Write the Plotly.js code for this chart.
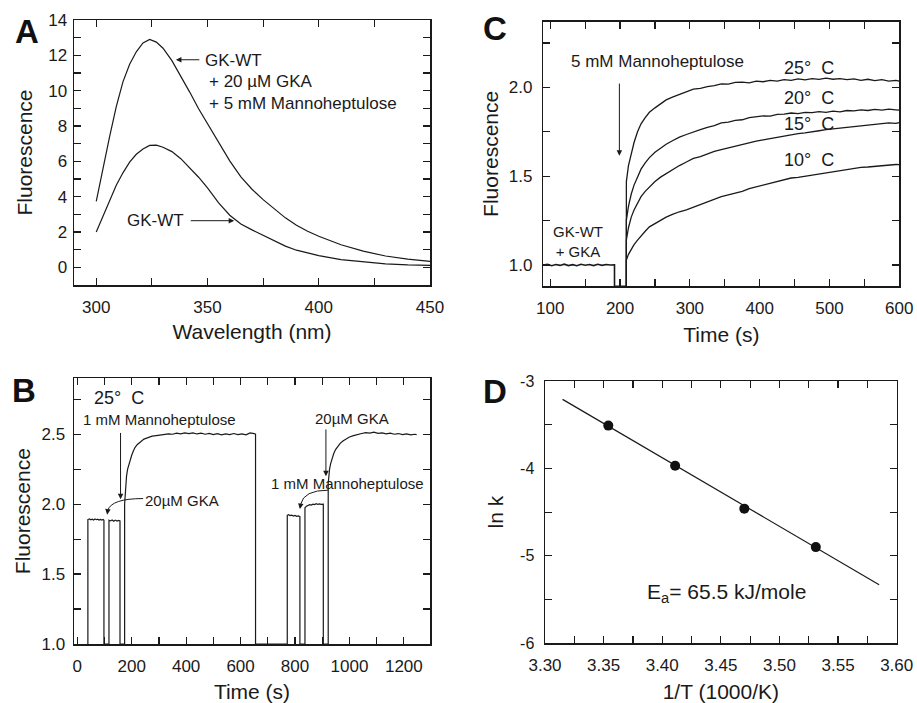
<!DOCTYPE html>
<html><head><meta charset="utf-8">
<script src="https://cdn.plot.ly/plotly-3.0.1.min.js"></script>
<style>html,body{margin:0;padding:0;background:#fff}#chart{width:917px;height:703px}</style>
</head><body><div id="chart"></div>
<script>
// ---------- Panel A : emission spectra ----------
const wavelength = [300,303,306,309,312,315,318,321,324,327,330,334,338,342,346,350,355,360,365,370,375,380,385,390,395,400,410,420,430,440,450];
const fluorWithGKA = [3.74,5.6,7.4,9.1,10.5,11.5,12.2,12.7,12.9,12.75,12.4,11.7,10.85,9.92,8.98,8.12,7.08,6.03,5.12,4.42,3.83,3.3,2.8,2.38,2.04,1.76,1.28,0.92,0.64,0.46,0.34];
const fluorGKWT = [2.0,2.9,3.85,4.65,5.35,5.95,6.4,6.7,6.9,6.92,6.8,6.55,6.15,5.65,5.1,4.5,3.65,2.95,2.45,2.12,1.8,1.48,1.2,0.97,0.8,0.66,0.44,0.3,0.2,0.14,0.11];

// ---------- Panel B : time course at 25 C ----------
const bTime = [39,39,45,50,55,60,65,70,75,80,85,90,95,98,98,116.5,116.5,122,128,134,140,146,152,157,157,174,174,176,178,181,185,190,195,200,206,212,220,228,236,245,255,265,275,290,305,320,335,350,365,380,395,410,425,440,455,470,485,500,515,530,545,560,575,590,605,620,635,650,655,655,771.6,771.6,776,782,788,794,800,806,812,818,818,836.6,836.6,842,848,854,860,866,872,878,884,890,896,904,904,922,922,924,927,931,936,942,949,957,966,976,988,1000,1015,1030,1045,1060,1075,1090,1105,1120,1135,1150,1165,1180,1195,1210,1225,1240,1247];
const bFluor = [1.0,1.89,1.895,1.888,1.892,1.886,1.894,1.889,1.893,1.887,1.891,1.886,1.89,1.885,1.0,1.0,1.885,1.88,1.887,1.878,1.886,1.879,1.884,1.88,1.0,1.0,2.0,2.08,2.14,2.2,2.25,2.29,2.325,2.35,2.38,2.405,2.425,2.44,2.455,2.465,2.472,2.48,2.486,2.49,2.495,2.498,2.502,2.5,2.508,2.503,2.51,2.505,2.51,2.502,2.508,2.5,2.506,2.498,2.504,2.496,2.502,2.497,2.505,2.498,2.503,2.496,2.51,2.505,2.5,1.0,1.0,1.92,1.925,1.918,1.922,1.915,1.919,1.913,1.916,1.91,1.0,1.0,1.975,1.985,1.99,1.996,1.993,2.0,1.997,2.003,1.998,2.002,1.999,2.0,1.0,1.0,2.15,2.2,2.25,2.29,2.33,2.36,2.39,2.415,2.435,2.452,2.468,2.48,2.49,2.5,2.505,2.512,2.508,2.515,2.506,2.51,2.503,2.508,2.5,2.505,2.498,2.502,2.495,2.5,2.497];

// ---------- Panel C : temperature dependence ----------
const cBaseTime = [90,96,102,108,114,120,126,132,138,144,150,156,162,168,174,180,186,192,192,209];
const cBaseFluor = [1.0,1.004,0.996,1.003,0.998,1.005,0.997,1.002,0.996,1.004,0.999,1.003,0.997,1.004,0.998,1.003,1.0,1.001,0.88,0.88];
const cTime = [209,209,212,216,220,225,230,236,242,250,258,266,275,285,295,305,315,325,335,345,355,365,375,385,395,405,415,425,435,445,455,465,475,485,495,505,515,525,535,545,555,565,575,585,595,600];
const c25 = [0.88,1.47,1.56,1.63,1.69,1.75,1.795,1.83,1.86,1.885,1.905,1.93,1.945,1.96,1.978,1.99,1.995,2.005,2.01,2.02,2.018,2.028,2.03,2.026,2.035,2.032,2.04,2.036,2.044,2.04,2.048,2.042,2.05,2.045,2.052,2.046,2.05,2.044,2.048,2.04,2.046,2.038,2.044,2.036,2.04,2.035];
const c20 = [0.88,1.253,1.33,1.40,1.45,1.50,1.54,1.575,1.605,1.635,1.66,1.68,1.70,1.72,1.735,1.75,1.762,1.775,1.785,1.8,1.805,1.815,1.818,1.83,1.834,1.84,1.838,1.848,1.85,1.856,1.852,1.86,1.858,1.864,1.86,1.866,1.862,1.87,1.868,1.874,1.87,1.876,1.872,1.878,1.874,1.872];
const c15 = [0.88,1.141,1.21,1.27,1.31,1.35,1.385,1.415,1.44,1.47,1.495,1.515,1.54,1.56,1.58,1.6,1.61,1.625,1.64,1.65,1.66,1.668,1.68,1.686,1.698,1.705,1.712,1.718,1.728,1.732,1.74,1.744,1.752,1.756,1.762,1.766,1.77,1.776,1.78,1.784,1.79,1.79,1.796,1.8,1.798,1.802];
const c10 = [0.88,1.028,1.06,1.09,1.115,1.14,1.165,1.19,1.215,1.235,1.255,1.27,1.285,1.30,1.31,1.325,1.34,1.355,1.37,1.385,1.395,1.405,1.415,1.43,1.44,1.45,1.46,1.47,1.478,1.49,1.494,1.5,1.508,1.514,1.52,1.528,1.532,1.54,1.544,1.55,1.552,1.556,1.558,1.562,1.566,1.565];

// ---------- Panel D : Arrhenius plot ----------
const invT = [3.354,3.411,3.470,3.531];
const lnK = [-3.51,-3.97,-4.46,-4.90];
const fitInvT = [3.315,3.585];
const fitLnK = [-3.21,-5.33];
const dYTickVals = [-3,-4,-5,-6];
const dYTickText = ['-3','-4','-5','-6'];

const FONT = "'Liberation Sans', Arial, Helvetica, sans-serif";
const INK = '#1a1a1a';
const lineStyle = {color: INK, width: 1.2};

const traces = [
  {x: wavelength, y: fluorWithGKA, xaxis:'x', yaxis:'y', mode:'lines', line: lineStyle, hoverinfo:'skip'},
  {x: wavelength, y: fluorGKWT, xaxis:'x', yaxis:'y', mode:'lines', line: lineStyle, hoverinfo:'skip'},
  {x: bTime, y: bFluor, xaxis:'x2', yaxis:'y2', mode:'lines', line: {color: INK, width: 1.2}, hoverinfo:'skip'},
  {x: cBaseTime, y: cBaseFluor, xaxis:'x3', yaxis:'y3', mode:'lines', line: {color: INK, width: 1.6}, hoverinfo:'skip'},
  {x: cTime, y: c25, xaxis:'x3', yaxis:'y3', mode:'lines', line: {color: INK, width: 1.3}, hoverinfo:'skip'},
  {x: cTime, y: c20, xaxis:'x3', yaxis:'y3', mode:'lines', line: {color: INK, width: 1.3}, hoverinfo:'skip'},
  {x: cTime, y: c15, xaxis:'x3', yaxis:'y3', mode:'lines', line: {color: INK, width: 1.3}, hoverinfo:'skip'},
  {x: cTime, y: c10, xaxis:'x3', yaxis:'y3', mode:'lines', line: {color: INK, width: 1.3}, hoverinfo:'skip'},
  {x: fitInvT, y: fitLnK, xaxis:'x4', yaxis:'y4', mode:'lines', line: {color: INK, width: 1.2}, hoverinfo:'skip'},
  {x: invT, y: lnK, xaxis:'x4', yaxis:'y4', mode:'markers', marker: {color: '#111', size: 10}, hoverinfo:'skip'}
];

const W = 917, H = 703;
function px2x(a,b){return [a/W, b/W];}
function py2y(top,bottom){return [1-bottom/H, 1-top/H];}

const baseAxis = {
  showline:true, linecolor:INK, linewidth:1.5, mirror:'allticks',
  ticks:'inside', ticklen:7, tickwidth:1.2, tickcolor:INK,
  showgrid:false, zeroline:false, fixedrange:true,
  tickfont:{family:FONT, size:17, color:INK}
};
function axis(extra, minor){
  const a = Object.assign({}, baseAxis, extra);
  a.minor = Object.assign({ticks:'inside', ticklen:7, tickwidth:1.2, tickcolor:INK, showgrid:false}, minor);
  return a;
}
const titleFont = {family:FONT, size:21, color:INK};

const layout = {
  width:W, height:H, margin:{l:0,r:0,t:0,b:0},
  paper_bgcolor:'#fff', plot_bgcolor:'#fff', showlegend:false,
  font:{family:FONT, color:INK},
  xaxis: axis({domain:px2x(74,430), anchor:'y', range:[290,450], tick0:300, dtick:50, ticklabelstandoff:6,
               title:{text:'Wavelength (nm)', font:titleFont, standoff:8}}, {tick0:300, dtick:25}),
  yaxis: axis({domain:py2y(20,285), anchor:'x', range:[-1,14], tick0:0, dtick:2, ticklabelstandoff:2,
               title:{text:'Fluorescence', font:titleFont, standoff:10}}, {tick0:0, dtick:1}),
  xaxis2: axis({domain:px2x(74,430), anchor:'y2', range:[-12,1296], tick0:0, dtick:200, ticklabelstandoff:6,
               title:{text:'Time (s)', font:titleFont, standoff:10}}, {tick0:0, dtick:100}),
  yaxis2: axis({domain:py2y(378.3,644), anchor:'x2', range:[1.0,2.9], tick0:1, dtick:0.5, tickformat:'.1f', ticklabelstandoff:4,
               title:{text:'Fluorescence', font:titleFont, standoff:5}}, {tick0:1, dtick:0.25}),
  xaxis3: axis({domain:px2x(543.3,899.3), anchor:'y3', range:[90,600], tick0:100, dtick:100, ticklabelstandoff:6,
               title:{text:'Time (s)', font:titleFont, standoff:10}}, {tick0:100, dtick:50}),
  yaxis3: axis({domain:py2y(21.7,286), anchor:'x3', range:[0.882,2.37], tick0:1, dtick:0.5, tickformat:'.1f', ticklabelstandoff:6,
               title:{text:'Fluorescence', font:titleFont, standoff:4}}, {tick0:1, dtick:0.25}),
  xaxis4: axis({domain:px2x(545,896.7), anchor:'y4', range:[3.30,3.60], tick0:3.30, dtick:0.05, tickformat:'.2f', ticklabelstandoff:6,
               title:{text:'1/T (1000/K)', font:titleFont, standoff:14}}, {tick0:3.30, dtick:0.025}),
  yaxis4: axis({domain:py2y(381,643.3), anchor:'x4', range:[-6,-3], tickmode:'array', tickvals:dYTickVals, ticktext:dYTickText, ticklabelstandoff:6,
               tickfont:{family:FONT, size:16, color:INK},
               title:{text:'ln k', font:titleFont, standoff:10}}, {tickmode:'linear', tick0:-6, dtick:0.5}),
  shapes: [
    {type:'path', xref:'x2', yref:'y2', path:'M 242,2.04 Q 125,2.04 112,1.955', line:{color:INK, width:1}},
    {type:'path', xref:'x2', yref:'y2', path:'M 922,2.10 Q 832,2.10 821,2.0', line:{color:INK, width:1}}
  ],
  annotations: []
};

const ann = layout.annotations;
function txt(xref, yref, x, y, text, size, xanchor){
  ann.push({xref, yref, x, y, text, showarrow:false, xanchor:xanchor||'center', yanchor:'middle',
            font:{family:FONT, size, color:INK}});
}
function arrow(xref, yref, x, y, ax, ay){
  ann.push({xref, yref, axref:xref, ayref:yref, x, y, ax, ay, text:'', showarrow:true,
            arrowhead:2, arrowsize:1.1, arrowwidth:1, arrowcolor:INK, standoff:0, startstandoff:0});
}
// panel letters
[['A',27,31],['B',23.5,390],['C',494.5,28.5],['D',494.5,391.5]].forEach(function(p){
  ann.push({xref:'paper', yref:'paper', x:p[1]/W, y:1-p[2]/H, text:'<b>'+p[0]+'</b>', showarrow:false,
            xanchor:'center', yanchor:'middle', font:{family:FONT, size:33, color:'#111'}});
});
// Panel A
txt('x','y',348.1,11.7,'GK-WT',17,'left');
txt('x','y',349.9,10.5,'+ 20 µM GKA',17,'left');
txt('x','y',349.9,9.3,'+ 5 mM Mannoheptulose',17,'left');
arrow('x','y',335.8,11.75,347,11.75);
txt('x','y',326.5,2.64,'GK-WT',17,'center');
arrow('x','y',362,2.64,341.8,2.64);
// Panel B
txt('x2','y2',54,2.76,'25°\u00a0\u00a0C',18,'left');
txt('x2','y2',303,2.607,'1 mM Mannoheptulose',15,'center');
arrow('x2','y2',159,2.035,159,2.52);
txt('x2','y2',386,2.028,'20µM GKA',15,'center');
arrow('x2','y2',110,1.925,112,1.955);
txt('x2','y2',1010,2.614,'20µM GKA',15,'center');
arrow('x2','y2',913.6,2.2,913.6,2.545);
txt('x2','y2',992,2.148,'1 mM Mannoheptulose',15,'center');
arrow('x2','y2',818,1.965,821,2.0);
// Panel C
txt('x3','y3',253,2.148,'5 mM Mannoheptulose',17,'center');
arrow('x3','y3',199,1.615,199,2.03);
txt('x3','y3',139,1.135,'GK-WT<br>+ GKA',15,'center');
txt('x3','y3',470.7,2.107,'25°\u00a0\u00a0C',18,'center');
txt('x3','y3',470.7,1.938,'20°\u00a0\u00a0C',18,'center');
txt('x3','y3',470.7,1.796,'15°\u00a0\u00a0C',18,'center');
txt('x3','y3',470.7,1.59,'10°\u00a0\u00a0C',18,'center');
// Panel D
txt('x4','y4',3.455,-5.42,'E<sub>a</sub>= 65.5 kJ/mole',21,'center');

Plotly.newPlot('chart', traces, layout, {displayModeBar:false, staticPlot:true});
</script>
</body></html>
